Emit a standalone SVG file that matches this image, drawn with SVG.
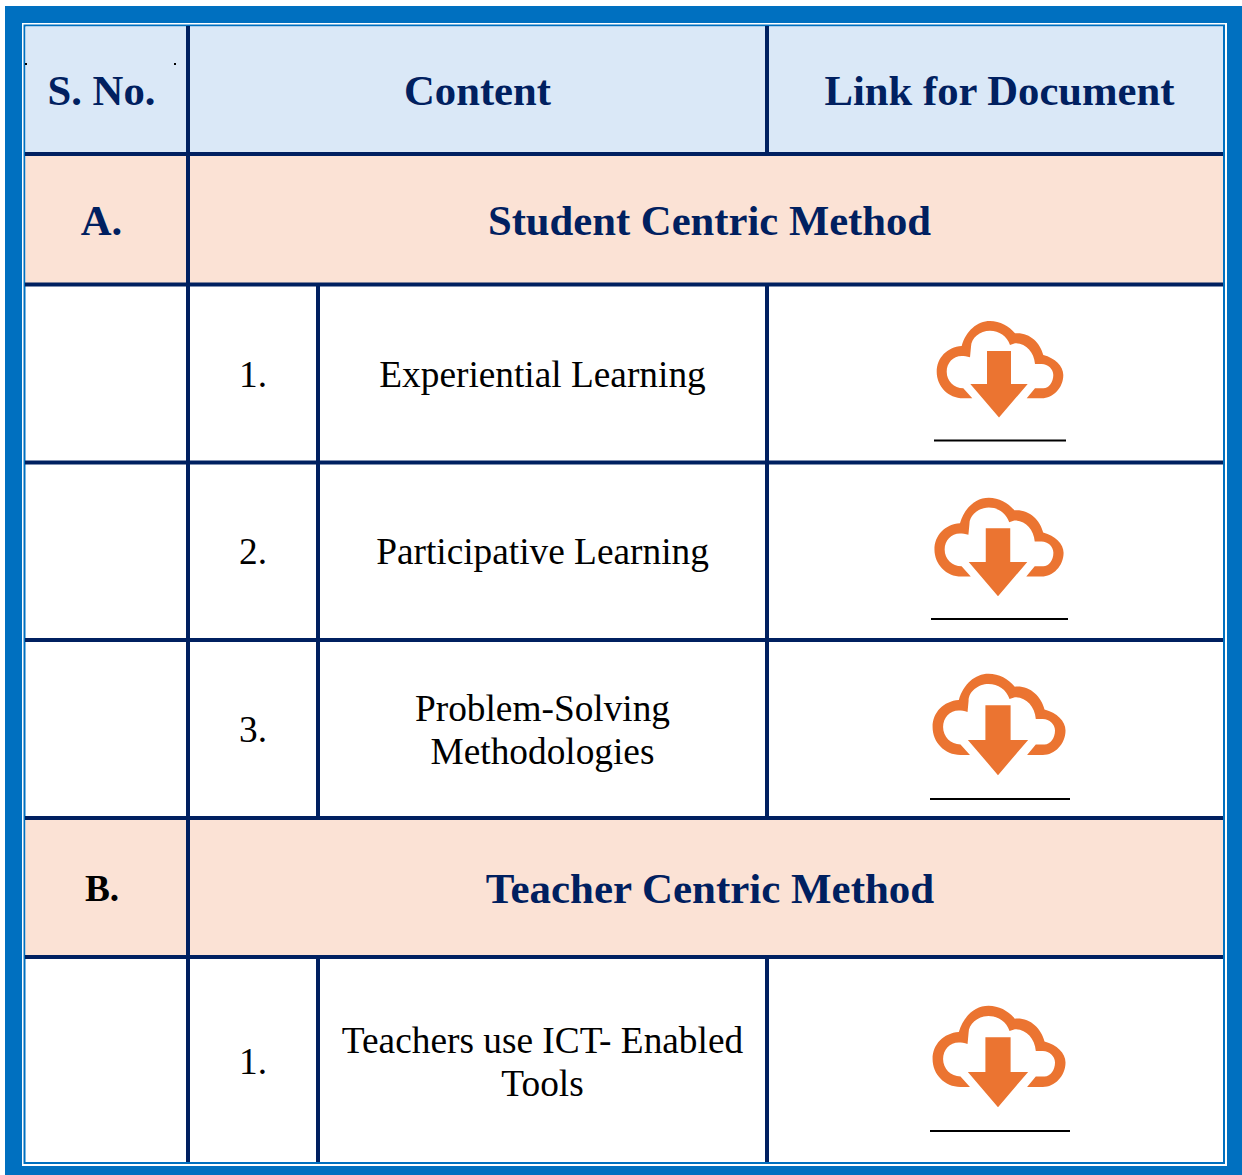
<svg xmlns="http://www.w3.org/2000/svg" width="1242" height="1175" viewBox="0 0 1242 1175">
<style>
text{font-family:"Liberation Serif","Times New Roman",serif;text-anchor:middle}
.h{font-size:42.67px;font-weight:bold;fill:#002060}
.b{font-size:37.33px;fill:#000}
.g{stroke:#002060;stroke-width:4;fill:none}
.u{stroke:#000;stroke-width:2}
.ic{fill:#EB7431}
</style>
<defs>
<g id="cloud">
<path class="ic" d="M-26.700 13.300 L-35.700 13.300 C-51 13.300 -62.300 1 -62.300 -13.300 C-62.300 -27 -52 -38 -37.300 -39 C-33 -54 -22 -64 -9 -64 C1 -64 10 -59 16 -51.700 C30 -53 41 -43 44.300 -30 C56 -27 64.300 -19 64.300 -10 C64.300 3 54 13.300 42.700 13.300 L27.700 13.300 L36 3.300 L44.300 3.300 C50 3.300 54.300 -3 54.300 -10 C54.300 -16 49 -21 42.700 -21 L36 -21 C35 -33 27 -41.700 16 -41.700 L11 -40 C8 -49 0 -54.300 -9 -54.300 C-19 -54.300 -28 -47 -28 -38.300 L-29 -27.700 C-32 -28.500 -35 -29 -37.300 -29 C-46 -29 -52.300 -22 -52.300 -13.300 C-52.300 -4 -45 3.300 -35.700 3.300 Z"/>
<path class="ic" d="M-12 -34 H12 V-1 H28.700 L0 32.500 L-28.700 -1 H-12 Z"/>
</g>
</defs>
<rect id="frame" x="5" y="6" width="1237" height="1169" fill="#0070C0"/>
<rect x="23" y="24" width="1203" height="1141" fill="#fff" stroke="#fff" stroke-width="2"/>
<rect x="24.500" y="25.500" width="1199.500" height="1137.500" fill="#fff" stroke="#0070C0" stroke-width="2"/>
<g id="fills">
<rect x="25.500" y="26.500" width="1197.500" height="127" fill="#DAE8F7"/>
<rect x="25.500" y="155" width="1197.500" height="128" fill="#FBE2D5"/>
<rect x="25.500" y="818" width="1197.500" height="138" fill="#FBE2D5"/>
</g>
<g id="connectors">
<path class="g" d="M25 154H1223M25 284.500H1223M25 462.500H1223M25 640H1223M25 818H1223M25 957H1223"/>
<path class="g" d="M188 26V1162M318 284V819.500M318 957V1162M767 26V154M767 284V819.500M767 957V1162"/>
</g>
<g id="header">
<rect x="25" y="63" width="2" height="2"/><rect x="174" y="63" width="2" height="2"/>
<text class="h" x="101.500" y="105">S. No.</text>
<text class="h" x="477.500" y="105">Content</text>
<text class="h" x="999.500" y="105">Link for Document</text>
</g>
<g id="section-a">
<text class="h" x="101.500" y="235">A.</text>
<text class="h" x="709.500" y="235">Student Centric Method</text>
</g>
<g id="row-a1">
<text class="b" x="253" y="387">1.</text>
<text class="b" x="542.500" y="387">Experiential Learning</text>
<use href="#cloud" transform="translate(999 385)"/>
<path class="u" d="M934 440.500H1066"/>
</g>
<g id="row-a2">
<text class="b" x="253" y="564">2.</text>
<text class="b" x="542.500" y="564">Participative Learning</text>
<use href="#cloud" transform="translate(998 563) scale(1.02)"/>
<path class="u" d="M931 619H1068"/>
</g>
<g id="row-a3">
<text class="b" x="253" y="742">3.</text>
<text class="b" x="542.500" y="721">Problem-Solving</text>
<text class="b" x="542.500" y="764">Methodologies</text>
<use href="#cloud" transform="translate(998 741) scale(1.05)"/>
<path class="u" d="M930 799H1070"/>
</g>
<g id="section-b">
<text x="102" y="901" style="font-size:37.33px;font-weight:bold;fill:#000">B.</text>
<text class="h" x="710" y="903" style="font-size:42.95px">Teacher Centric Method</text>
</g>
<g id="row-b1">
<text class="b" x="253" y="1074">1.</text>
<text class="b" x="542.500" y="1053">Teachers use ICT- Enabled</text>
<text class="b" x="542.500" y="1096">Tools</text>
<use href="#cloud" transform="translate(998 1073) scale(1.05)"/>
<path class="u" d="M930 1131H1070"/>
</g>
</svg>
